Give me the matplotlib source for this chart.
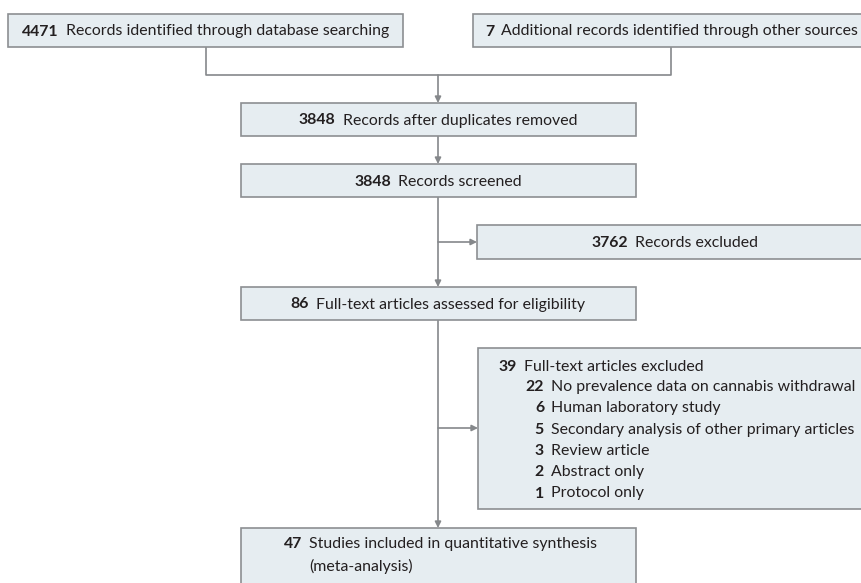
import matplotlib
matplotlib.use("Agg")
import matplotlib.pyplot as plt
from matplotlib.patches import Rectangle

# flow counts and labels
top_counts = [4471, 7]
top_labels = ["Records identified through database searching",
              "Additional records identified through other sources"]
main_counts = [3848, 3848, 86, 47]
main_labels = ["Records after duplicates removed",
               "Records screened",
               "Full-text articles assessed for eligibility",
               "Studies included in quantitative synthesis"]
included_note = "(meta-analysis)"
excl_count = 3762
excl_label = "Records excluded"
ft_excl_count = 39
ft_excl_label = "Full-text articles excluded"
reason_counts = [22, 6, 5, 3, 2, 1]
reason_labels = ["No prevalence data on cannabis withdrawal",
                 "Human laboratory study",
                 "Secondary analysis of other primary articles",
                 "Review article",
                 "Abstract only",
                 "Protocol only"]

FILL = "#e6edf1"
EDGE = "#8c8f92"
LINE = "#85888b"
TXT = "#231f20"
FONT = "Lato"
FS = 11.4
BASE = 5.0  # baseline offset from line centre, px

fig = plt.figure(figsize=(8.61, 5.83), dpi=100)
ax = fig.add_axes([0, 0, 1, 1])
ax.set_xlim(0, 861)
ax.set_ylim(583, 0)
ax.axis("off")
renderer = fig.canvas.get_renderer()


def box(x0, y0, x1, y1):
    ax.add_patch(Rectangle((x0, y0), x1 - x0, y1 - y0, facecolor=FILL,
                           edgecolor=EDGE, linewidth=1.2, zorder=2))


def width_px(s, weight):
    t = ax.text(0, 0, s, fontsize=FS, family=FONT, fontweight=weight)
    w = t.get_window_extent(renderer).width
    t.remove()
    return w


def txt(x, y, s, bold=False, ha="left"):
    ax.text(x, y + BASE, s, fontsize=FS, family=FONT, color=TXT,
            fontweight="bold" if bold else "normal",
            va="baseline", ha=ha, zorder=3)


def label(x, y, num, text, align="left", gap=7):
    num = str(num)
    wn = width_px(num, "bold")
    if align == "center":
        wt = width_px(text, "normal")
        x = x - (wn + gap + wt) / 2
    txt(x, y, num, bold=True)
    txt(x + wn + gap, y, text)


def numbered(xr, y, num, text, gap=7):
    # number right-aligned at xr, text after it
    txt(xr, y, str(num), bold=True, ha="right")
    txt(xr + gap, y, text)


def arrow(x0, y0, x1, y1):
    ax.annotate("", xy=(x1, y1), xytext=(x0, y0),
                arrowprops=dict(arrowstyle="-|>", color=LINE, lw=1.2,
                                mutation_scale=9, shrinkA=0, shrinkB=0),
                zorder=1)


def seg(xs, ys):
    ax.plot(xs, ys, color=LINE, lw=1.2, zorder=1, solid_capstyle="butt")


cx = 438

# top boxes
box(8, 14, 403, 47)
label(22, 30.5, top_counts[0], top_labels[0])
box(473, 14, 870, 47)
label(485, 30.5, top_counts[1], top_labels[1])
seg([205.5, 205.5, 671, 671], [47, 75, 75, 47])
arrow(cx, 75, cx, 103)

# main column
main_y = [(103, 136), (164, 197), (287, 320)]
for (y0, y1), n, s in zip(main_y, main_counts[:3], main_labels[:3]):
    box(241, y0, 636, y1)
    label(cx, (y0 + y1) / 2, n, s, align="center")
arrow(cx, 136, cx, 164)
arrow(cx, 197, cx, 287)

# records excluded
box(477, 225, 875, 259)
arrow(cx, 242, 477, 242)
label(675, 242, excl_count, excl_label, align="center")

# full-text excluded
box(478, 348, 875, 509)
arrow(cx, 428, 478, 428)
numbered(517, 366, ft_excl_count, ft_excl_label)
for i, (n, s) in enumerate(zip(reason_counts, reason_labels)):
    numbered(544, 386 + i * 21.3, n, s)
arrow(cx, 320, cx, 528)

# included
box(241, 528, 636, 600)
numbered(302, 543, main_counts[3], main_labels[3])
txt(309, 566, included_note)

fig.savefig("out.png", dpi=100)
